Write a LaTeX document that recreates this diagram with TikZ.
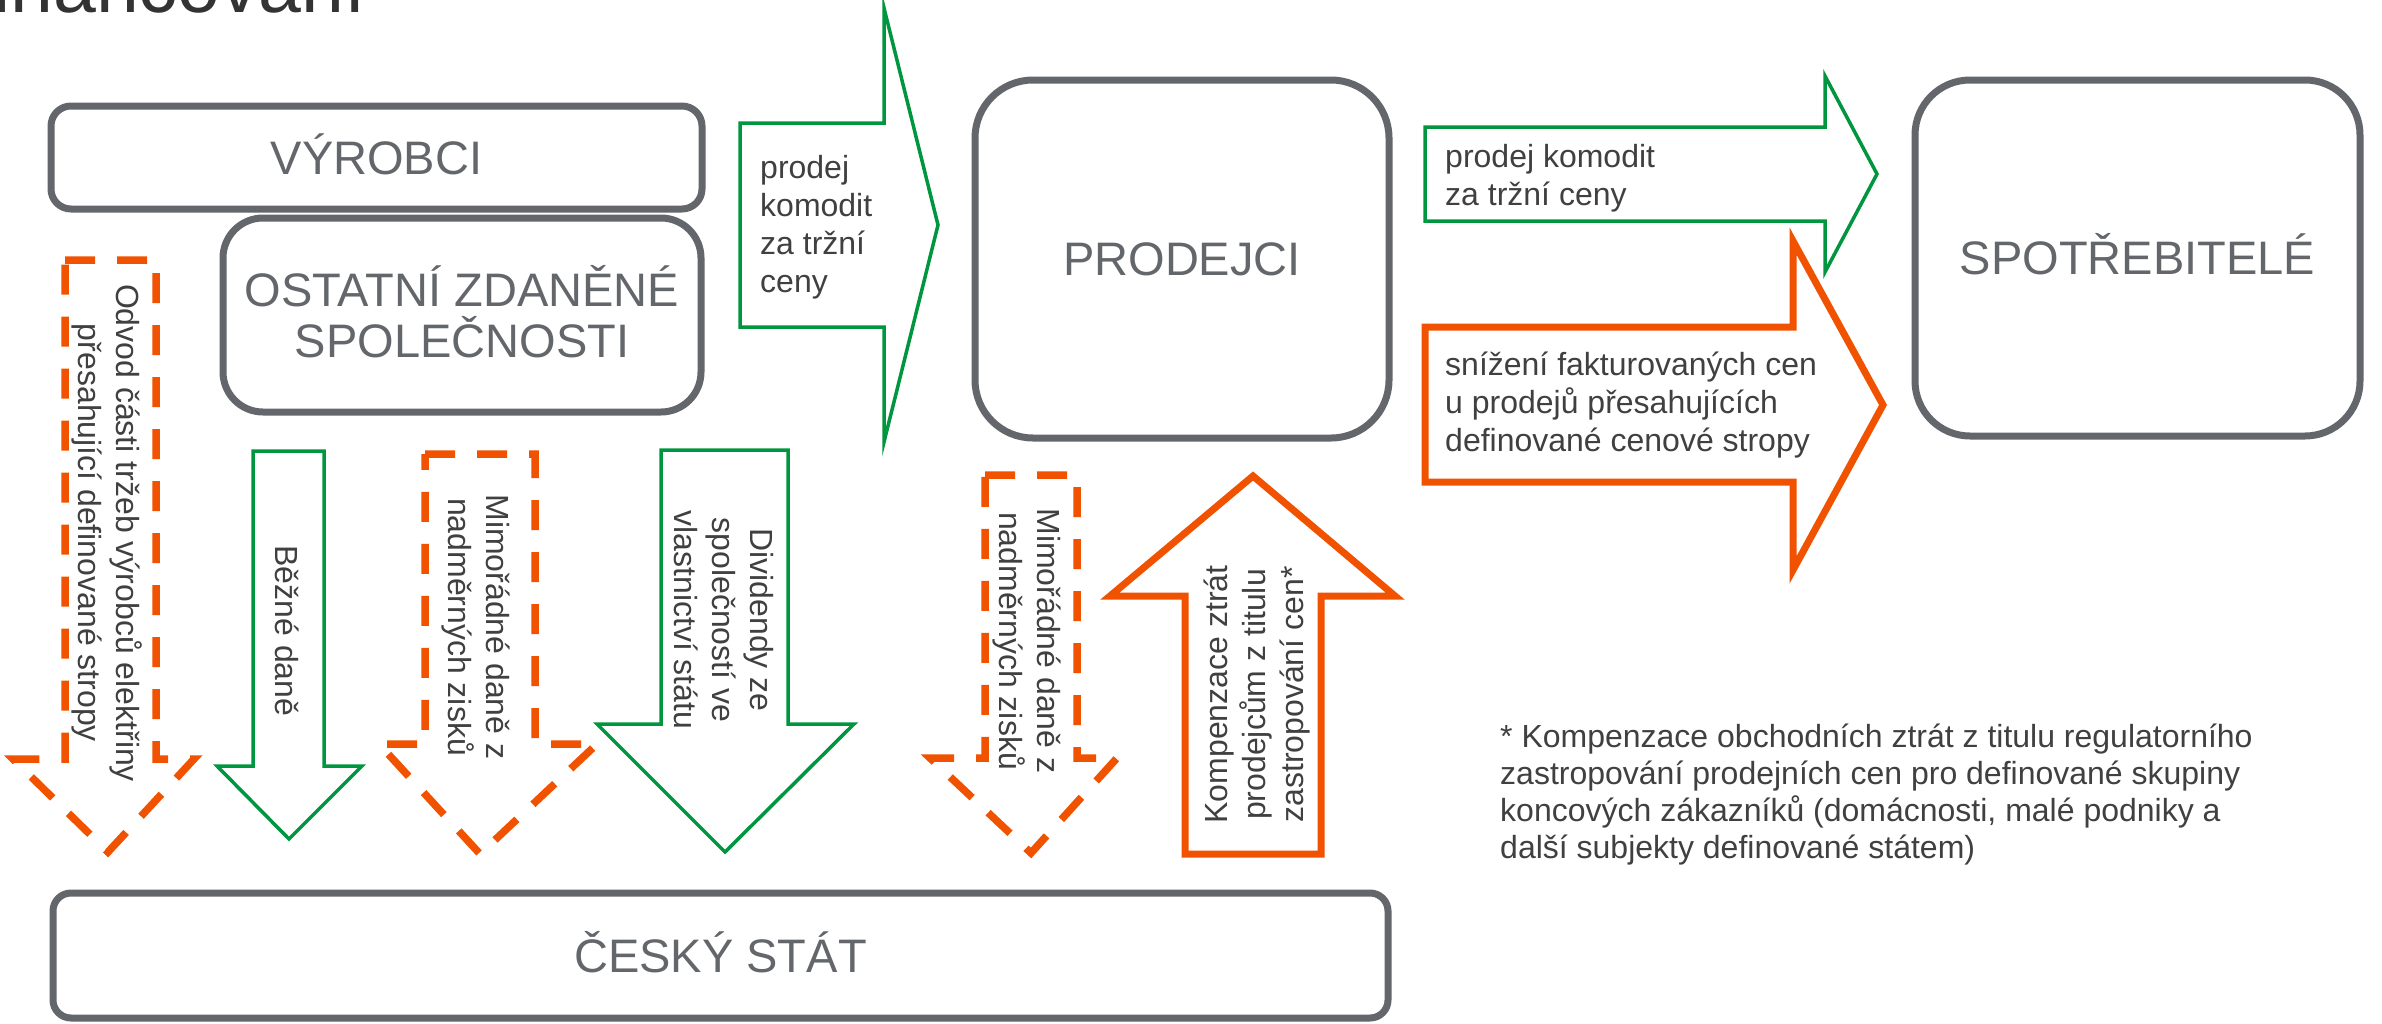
\documentclass[tikz,border=0pt]{standalone}
\usepackage{fontspec}
\setmainfont{Liberation Sans}
\definecolor{boxgray}{RGB}{99,102,106}
\definecolor{txtgray}{RGB}{64,64,64}
\definecolor{titlegray}{RGB}{51,51,51}
\definecolor{cgreen}{RGB}{0,150,64}
\definecolor{corange}{RGB}{240,82,0}
\tikzset{
  entity/.style={draw=boxgray, line width=7pt, text=boxgray,
    font=\fontsize{47}{51}\selectfont, inner sep=0pt,
    text height=33.6pt, text depth=0pt},
  greenarrow/.style={draw=cgreen, line width=3.5pt, miter limit=20},
  orangearrow/.style={draw=corange, line width=7pt, miter limit=20},
  orangedash/.style={draw=corange, line width=7.5pt, dash pattern=on 30pt off 22pt},
  lbl/.style={text=txtgray, font=\fontsize{32}{38}\selectfont, inner sep=0pt},
}
\begin{document}
\begin{tikzpicture}[x=1pt,y=-1pt]
\useasboundingbox (0,0) rectangle (2382,1023);
\fill[white] (0,0) rectangle (2382,1023);
\begin{scope}
\clip (0,0) rectangle (2382,1023);

% title (cut at top)
\node[anchor=base east, inner sep=0pt, text=titlegray,
  font=\fontsize{77}{80}\selectfont] (title) at (366,12) {financování};

% entity boxes
\node[entity, rounded corners=20pt, minimum width=651pt, minimum height=103pt]
  (vyrobci) at (376.5,157.5) {VÝROBCI};
\node[entity, rounded corners=40pt, minimum width=478pt, minimum height=194pt,
  text depth=51pt]
  (ostatni) at (462,315)
  {\begin{tabular}[t]{@{}c@{}}OSTATNÍ ZDANĚNÉ\\\smash{SPOLEČNOSTI}\end{tabular}};
\node[entity, rounded corners=58pt, minimum width=414pt, minimum height=358pt]
  (prodejci) at (1182,259) {PRODEJCI};
\node[entity, rounded corners=55pt, minimum width=445pt, minimum height=356pt]
  (spotrebitele) at (2137.5,258) {SPOTŘEBITELÉ};
\node[entity, rounded corners=18pt, minimum width=1335pt, minimum height=125pt]
  (stat) at (720.5,955.5) {ČESKÝ STÁT};

% horizontal block arrows
\draw[greenarrow] (740,123) -- (884,123) -- (884,8) -- (938,225) -- (884,442)
  -- (884,327) -- (740,327) -- cycle;
\node[lbl, anchor=base west] (prodej1) at (760,178)
  {\begin{tabular}[t]{@{}l@{}}prodej\\komodit\\za tržní\\ceny\end{tabular}};

\draw[greenarrow] (1425,127) -- (1825,127) -- (1825,76) -- (1877,174) -- (1825,272)
  -- (1825,221) -- (1425,221) -- cycle;
\node[lbl, anchor=base west] (prodej2) at (1445,167)
  {\begin{tabular}[t]{@{}l@{}}prodej komodit\\za tržní ceny\end{tabular}};

\draw[orangearrow] (1425,327) -- (1793,327) -- (1793,241) -- (1883,405) -- (1793,570)
  -- (1793,482) -- (1425,482) -- cycle;
\node[lbl, anchor=base west] (snizeni) at (1445,375)
  {\begin{tabular}[t]{@{}l@{}}snížení fakturovaných cen\\u prodejů přesahujících\\definované cenové stropy\end{tabular}};

% downward block arrows
\draw[orangedash] (65,260) -- (156,260) -- (156,759) -- (194,759) -- (108,852)
  -- (13,759) -- (65,759) -- cycle;
\node[lbl, rotate=-90] (odvod) at (104.6,533)
  {\begin{tabular}[t]{@{}c@{}}Odvod části tržeb výrobců elektřiny\\přesahující definované stropy\end{tabular}};

\draw[greenarrow] (253,451) -- (324,451) -- (324,766) -- (362,766) -- (289,839)
  -- (217,766) -- (253,766) -- cycle;
\node[lbl, rotate=-90] (bezne) at (283,631)
  {\begin{tabular}[t]{@{}c@{}}Běžné daně\end{tabular}};

\draw[orangedash] (425,454) -- (535,454) -- (535,744) -- (597,744) -- (480,854)
  -- (379,744) -- (425,744) -- cycle;
\node[lbl, rotate=-90] (mimo1) at (474.6,627)
  {\begin{tabular}[t]{@{}c@{}}Mimořádné daně z\\nadměrných zisků\end{tabular}};

\draw[greenarrow] (661,450) -- (788,450) -- (788,724) -- (854,724) -- (725,852)
  -- (597,724) -- (661,724) -- cycle;
\node[lbl, rotate=-90] (dividendy) at (719.6,620)
  {\begin{tabular}[t]{@{}c@{}}Dividendy ze\\společností ve\\vlastnictví státu\end{tabular}};

\draw[orangedash] (985,475) -- (1077,475) -- (1077,758) -- (1117,758) -- (1031,853)
  -- (930,758) -- (985,758) -- cycle;
\node[lbl, rotate=-90] (mimo2) at (1025.6,641)
  {\begin{tabular}[t]{@{}c@{}}Mimořádné daně z\\nadměrných zisků\end{tabular}};

% upward block arrow
\draw[orangearrow] (1185,854) -- (1321,854) -- (1321,596) -- (1395,596) -- (1253,476)
  -- (1110,596) -- (1185,596) -- cycle;
\node[lbl, rotate=90] (kompenzace) at (1257.4,694.5)
  {\begin{tabular}[t]{@{}c@{}}Kompenzace ztrát\\prodejcům z titulu\\zastropování cen*\end{tabular}};

% footnote
\node[lbl, anchor=base west] (poznamka) at (1500,747)
  {\fontsize{32}{37}\selectfont\begin{tabular}[t]{@{}l@{}}* Kompenzace obchodních ztrát z titulu regulatorního\\zastropování prodejních cen pro definované skupiny\\koncových zákazníků (domácnosti, malé podniky a\\další subjekty definované státem)\end{tabular}};
\end{scope}
\end{tikzpicture}
\end{document}
